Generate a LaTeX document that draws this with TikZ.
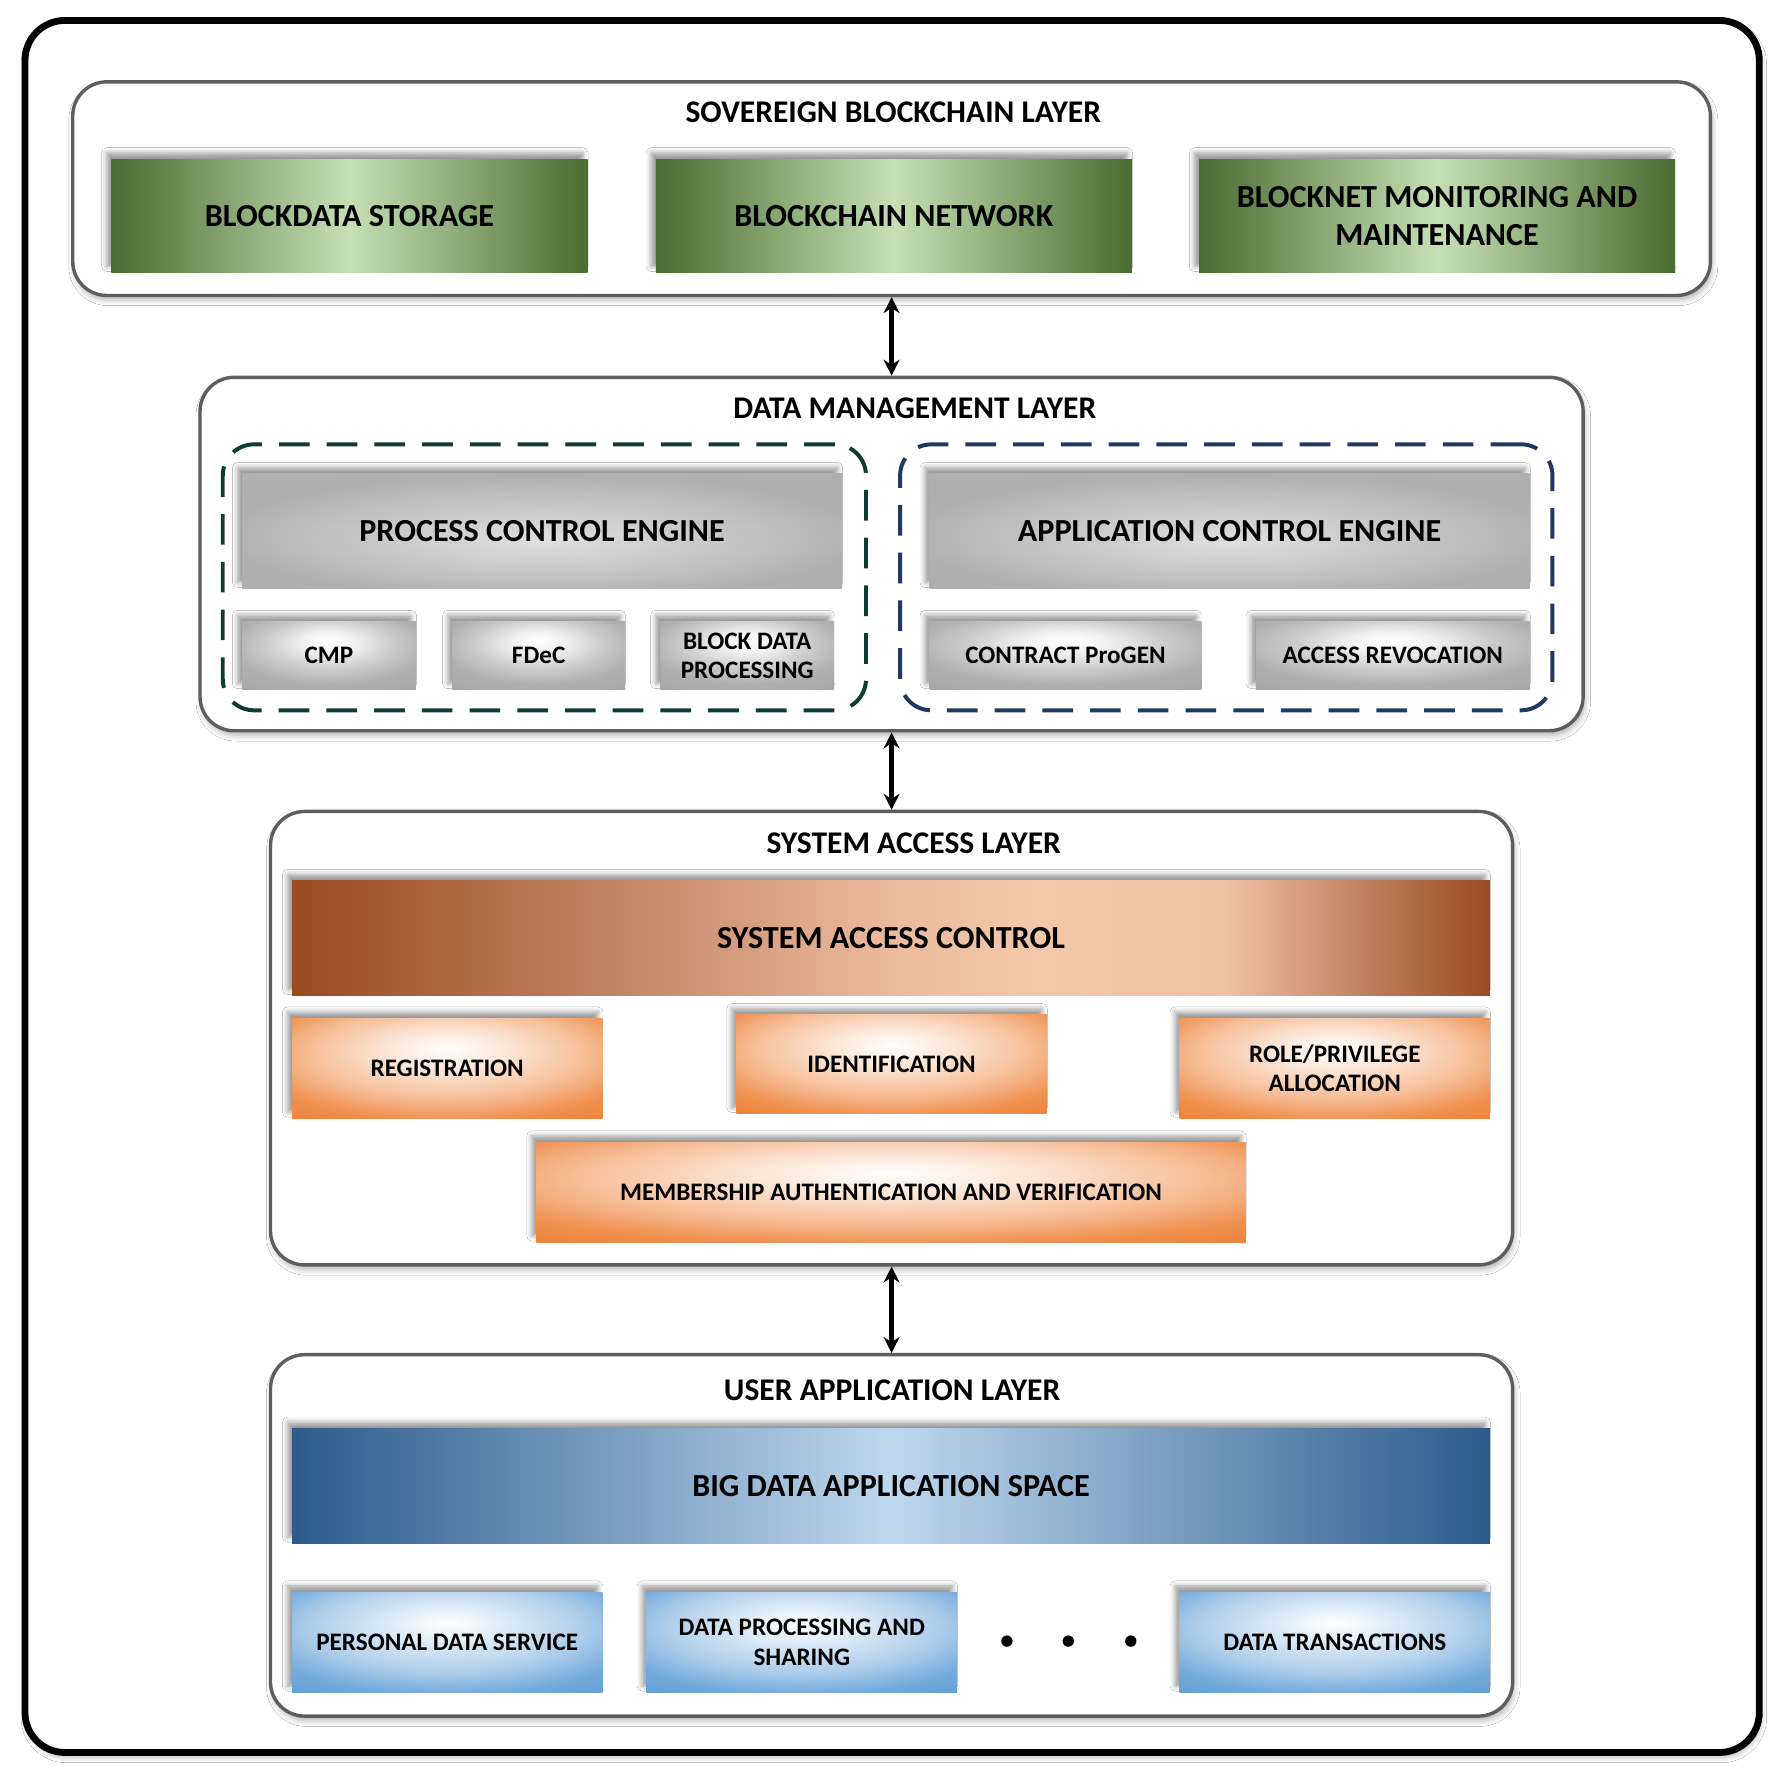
\documentclass[tikz,border=0pt]{standalone}
\usepackage{fontspec}
\setmainfont{Carlito}
\usetikzlibrary{shadows.blur,arrows.meta}
\tikzset{>={Stealth[length=2.8mm,width=2.8mm]}}

\definecolor{laygray}{HTML}{5E5E5E}
\definecolor{grndark}{HTML}{4A6B31}
\definecolor{grnlight}{HTML}{C6E0B4}
\definecolor{brwdark}{HTML}{9A4A1F}
\definecolor{brwmid}{HTML}{BE7D5E}
\definecolor{brwlight}{HTML}{F3C7AA}
\definecolor{orng}{HTML}{ED7D31}
\definecolor{bludark}{HTML}{2C5B8B}
\definecolor{blulight}{HTML}{BDD7EE}
\definecolor{blumid}{HTML}{5B9BD5}
\definecolor{tealdash}{HTML}{0E3B35}
\definecolor{navydash}{HTML}{203864}

% glow near the top middle of the small boxes (path covers -25bp..25bp)
\pgfdeclareradialshading{glowgray}{\pgfpoint{0bp}{11bp}}{color(0bp)=(white); color(8bp)=(gray!12); color(18bp)=(gray!40); color(28bp)=(gray!62); color(40bp)=(gray!70); color(80bp)=(gray!70)}
\pgfdeclareradialshading{gloworange}{\pgfpoint{0bp}{10bp}}{color(0bp)=(white); color(10bp)=(orng!20); color(22bp)=(orng!50); color(32bp)=(orng!85); color(42bp)=(orng); color(80bp)=(orng)}
\pgfdeclareradialshading{glowblue}{\pgfpoint{0bp}{10bp}}{color(0bp)=(white); color(10bp)=(blumid!22); color(22bp)=(blumid!50); color(32bp)=(blumid!85); color(42bp)=(blumid); color(80bp)=(blumid)}
\pgfdeclareradialshading{bigglowgray}{\pgfpoint{0bp}{-4bp}}{color(0bp)=(gray!25); color(15bp)=(gray!45); color(27bp)=(gray!62); color(60bp)=(gray!66)}
\pgfdeclarehorizontalshading{brownbar}{100bp}{color(0bp)=(brwdark); color(25bp)=(brwdark); color(37bp)=(brwmid); color(50bp)=(brwlight!90!brwdark); color(56bp)=(brwlight); color(64bp)=(brwlight!95!brwdark); color(70bp)=(brwmid); color(75bp)=(brwdark); color(100bp)=(brwdark)}

\def\pxu{0.2mm}

\tikzset{
  sz/.style 2 args={minimum width=#1*\pxu, minimum height=#2*\pxu},
  frame/.style={draw=black, line width=1.2mm, rounded corners=7mm, fill=white,
    blur shadow={shadow xshift=0.3mm, shadow yshift=-0.8mm, shadow opacity=30, shadow blur radius=1mm}},
  layer/.style={draw=laygray, line width=0.6mm, rounded corners=6mm, fill=white, inner sep=0pt,
    blur shadow={shadow xshift=0.3mm, shadow yshift=-0.8mm, shadow opacity=30, shadow blur radius=1mm}},
  group/.style={line width=0.7mm, rounded corners=5.5mm, dash pattern=on 5.4mm off 3mm, inner sep=0pt},
  title/.style={font=\bfseries\fontsize{15.8}{18}\selectfont, inner sep=0pt},
  box/.style={inner sep=0pt, align=center,
    blur shadow={shadow xshift=-0.8mm, shadow yshift=1.1mm, shadow opacity=40, shadow blur radius=0.9mm}},
  bigbox/.style={box, font=\bfseries\fontsize{16.1}{18.8}\selectfont},
  smallbox/.style={box, font=\bfseries\fontsize{12.6}{14.8}\selectfont},
  greenbox/.style={bigbox, left color=grndark, right color=grndark, middle color=grnlight},
  graybox/.style={bigbox, shading=bigglowgray},
  grayitem/.style={smallbox, shading=glowgray},
  brownbox/.style={bigbox, shading=brownbar},
  orangeitem/.style={smallbox, shading=gloworange},
  bluebox/.style={bigbox, left color=bludark, right color=bludark, middle color=blulight},
  blueitem/.style={smallbox, shading=glowblue},
  link/.style={<->, line width=0.8mm}
}

\begin{document}
\begin{tikzpicture}[x=0.2mm, y=-0.2mm]
  \fill[white] (0,0) rectangle (1568,1561);
  \useasboundingbox (0,0) rectangle (1568,1561);
  \draw[frame] (22,18) rectangle (1548,1542);

  % sovereign blockchain layer
  \node[layer, sz={1441}{188}] (sbl) at (784.5,166) {};
  \node[title] (sbltitle) at (786,99) {SOVEREIGN BLOCKCHAIN LAYER};
  \node[greenbox, sz={419}{100}] (storage) at (307.5,190) {BLOCKDATA STORAGE};
  \node[greenbox, sz={419}{100}] (network) at (786.5,190) {BLOCKCHAIN NETWORK};
  \node[greenbox, sz={419}{100}] (monitor) at (1264.5,190) {BLOCKNET MONITORING AND\\MAINTENANCE};

  % data management layer
  \node[layer, sz={1217}{311}] (dml) at (784.5,487.5) {};
  \node[title] (dmltitle) at (805,359) {DATA MANAGEMENT LAYER};
  \node[group, draw=tealdash, sz={566}{234}] (procgrp) at (479,508) {};
  \node[group, draw=navydash, sz={574}{234}] (appgrp) at (1079,508) {};
  \node[graybox, sz={528}{101}] (pce) at (477,467.5) {PROCESS CONTROL ENGINE};
  \node[graybox, sz={528}{101}] (ace) at (1082,467.5) {APPLICATION CONTROL ENGINE};
  \node[grayitem, sz={153}{60}] (cmp) at (289.5,577) {CMP};
  \node[grayitem, sz={152}{60}] (fdec) at (474,577) {FDeC};
  \node[grayitem, sz={153}{60}] (bdp) at (657.5,577) {BLOCK DATA\\PROCESSING};
  \node[grayitem, sz={239}{60}] (progen) at (937.5,577) {CONTRACT ProGEN};
  \node[grayitem, sz={241}{60}] (revoke) at (1225.5,577) {ACCESS REVOCATION};

  % system access layer
  \node[layer, sz={1093}{399}] (sal) at (784.5,913.5) {};
  \node[title] (saltitle) at (804,742) {SYSTEM ACCESS LAYER};
  \node[brownbox, sz={1054}{101}] (sac) at (784,825.5) {SYSTEM ACCESS CONTROL};
  \node[orangeitem, sz={273}{88}] (regist) at (393.5,940) {REGISTRATION};
  \node[orangeitem, sz={273}{87}] (ident) at (784.5,936.5) {IDENTIFICATION};
  \node[orangeitem, sz={273}{88}] (role) at (1174.5,940) {ROLE/PRIVILEGE\\ALLOCATION};
  \node[orangeitem, sz={624}{88}] (member) at (784,1049) {MEMBERSHIP AUTHENTICATION AND VERIFICATION};

  % user application layer
  \node[layer, sz={1093}{318}] (ual) at (784.5,1351) {};
  \node[title] (ualtitle) at (785,1223) {USER APPLICATION LAYER};
  \node[bluebox, sz={1054}{101}] (bdas) at (784,1307.5) {BIG DATA APPLICATION SPACE};
  \node[blueitem, sz={273}{88}] (personal) at (393.5,1445) {PERSONAL DATA SERVICE};
  \node[blueitem, sz={273}{88}] (sharing) at (705.5,1445) {DATA PROCESSING AND\\SHARING};
  \node[blueitem, sz={273}{88}] (transact) at (1174.5,1445) {DATA TRANSACTIONS};
  \foreach \x in {886,940,995}
    \fill (\x,1444) circle (5);

  \draw[link] (sbl) -- (dml);
  \draw[link] (dml) -- (sal);
  \draw[link] (sal) -- (ual);
\end{tikzpicture}
\end{document}
